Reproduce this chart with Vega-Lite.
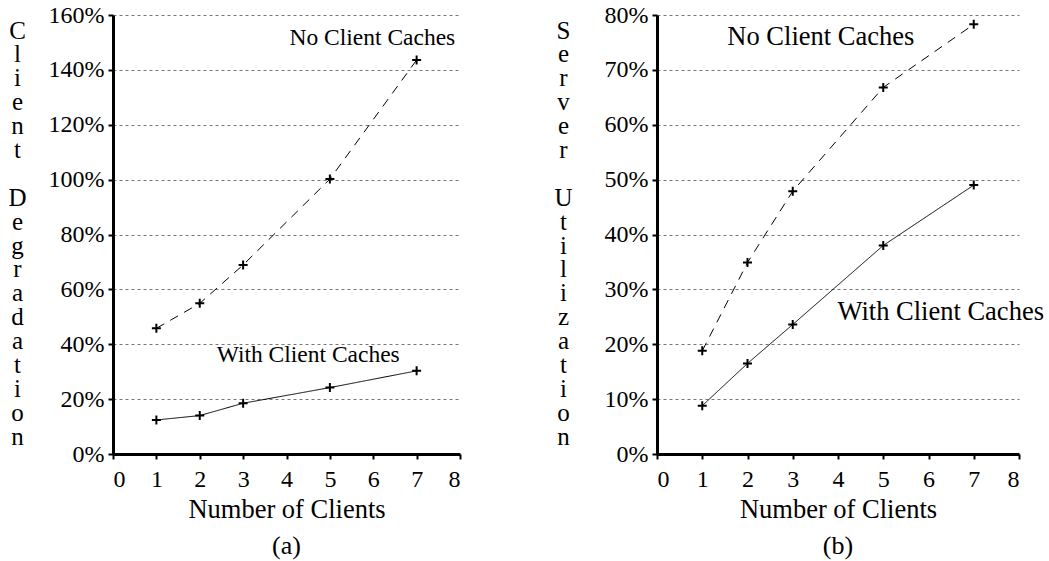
{
  "$schema": "https://vega.github.io/schema/vega-lite/v6.json",
  "autosize": {"type": "pad"},
  "padding": {"left": 7, "top": 3, "right": 2, "bottom": 4},
  "bounds": "flush",
  "spacing": 197,
  "background": "white",
  "config": {
    "view": {"stroke": null},
    "font": "Liberation Serif",
    "axis": {
      "domainColor": "black",
      "domainWidth": 3,
      "tickColor": "black",
      "tickWidth": 2,
      "tickSize": 5,
      "labelFont": "Liberation Serif",
      "labelFontSize": 24,
      "labelColor": "black",
      "titleFont": "Liberation Serif",
      "titleFontSize": 26.5,
      "titleFontWeight": "normal",
      "titleColor": "black"
    },
    "title": {"font": "Liberation Serif", "fontSize": 26, "fontWeight": "normal", "color": "black"}
  },
  "datasets": {
    "a": [
      {"clients": 1, "value": 0.458, "series": "No Client Caches"},
      {"clients": 2, "value": 0.549, "series": "No Client Caches"},
      {"clients": 3, "value": 0.689, "series": "No Client Caches"},
      {"clients": 5, "value": 1.002, "series": "No Client Caches"},
      {"clients": 7, "value": 1.436, "series": "No Client Caches"},
      {"clients": 1, "value": 0.124, "series": "With Client Caches"},
      {"clients": 2, "value": 0.140, "series": "With Client Caches"},
      {"clients": 3, "value": 0.185, "series": "With Client Caches"},
      {"clients": 5, "value": 0.242, "series": "With Client Caches"},
      {"clients": 7, "value": 0.303, "series": "With Client Caches"}
    ],
    "b": [
      {"clients": 1, "value": 0.188, "series": "No Client Caches"},
      {"clients": 2, "value": 0.349, "series": "No Client Caches"},
      {"clients": 3, "value": 0.479, "series": "No Client Caches"},
      {"clients": 5, "value": 0.668, "series": "No Client Caches"},
      {"clients": 7, "value": 0.783, "series": "No Client Caches"},
      {"clients": 1, "value": 0.088, "series": "With Client Caches"},
      {"clients": 2, "value": 0.165, "series": "With Client Caches"},
      {"clients": 3, "value": 0.236, "series": "With Client Caches"},
      {"clients": 5, "value": 0.380, "series": "With Client Caches"},
      {"clients": 7, "value": 0.490, "series": "With Client Caches"}
    ],
    "la": [
      {"clients": 5.98, "value": 1.516, "label": "No Client Caches"},
      {"clients": 4.5, "value": 0.361, "label": "With Client Caches"}
    ],
    "lb": [
      {"clients": 3.62, "value": 0.76, "label": "No Client Caches"},
      {"clients": 6.27, "value": 0.259, "label": "With Client Caches"}
    ]
  },
  "hconcat": [
    {
      "width": 347,
      "height": 439,
      "title": {"text": "(a)", "orient": "bottom", "offset": 10},
      "layer": [
        {
          "data": {"name": "a"},
          "mark": {"type": "line", "color": "black", "strokeWidth": 1},
          "encoding": {
            "x": {"field": "clients", "type": "quantitative", "scale": {"domain": [0, 8], "nice": false},
              "axis": {"values": [0, 1, 2, 3, 4, 5, 6, 7, 8], "grid": false, "title": "Number of Clients", "labelPadding": 8, "titlePadding": 5}},
            "y": {"field": "value", "type": "quantitative", "scale": {"domain": [0, 1.6], "nice": false},
              "axis": {"values": [0, 0.2, 0.4, 0.6, 0.8, 1.0, 1.2, 1.4, 1.6], "format": ".0%", "grid": true, "gridDash": [3, 3], "gridColor": "#777", "gridWidth": 1, "labelPadding": 4,
                "title": ["C", "l", "i", "e", "n", "t", "\u2800", "D", "e", "g", "r", "a", "d", "a", "t", "i", "o", "n"],
                "titleFontSize": 25, "titleAngle": 0, "titleAlign": "center", "titleBaseline": "top", "titleLineHeight": 23.9, "titleX": -96, "titleY": 3}},
            "strokeDash": {"field": "series", "type": "nominal", "scale": {"domain": ["No Client Caches", "With Client Caches"], "range": [[9, 7], [1, 0]]}, "legend": null}
          }
        },
        {
          "data": {"name": "a"},
          "mark": {"type": "point", "shape": "M-1,0H1M0,-1V1", "size": 81, "strokeWidth": 2, "color": "black", "filled": false, "opacity": 1},
          "encoding": {
            "x": {"field": "clients", "type": "quantitative"},
            "y": {"field": "value", "type": "quantitative"}
          }
        },
        {
          "data": {"name": "la"},
          "mark": {"type": "text", "fontSize": 23.5, "font": "Liberation Serif", "color": "black", "align": "center", "baseline": "middle"},
          "encoding": {
            "x": {"field": "clients", "type": "quantitative"},
            "y": {"field": "value", "type": "quantitative"},
            "text": {"field": "label"}
          }
        }
      ]
    },
    {
      "width": 362,
      "height": 439,
      "title": {"text": "(b)", "orient": "bottom", "offset": 10},
      "layer": [
        {
          "data": {"name": "b"},
          "mark": {"type": "line", "color": "black", "strokeWidth": 1},
          "encoding": {
            "x": {"field": "clients", "type": "quantitative", "scale": {"domain": [0, 8], "nice": false},
              "axis": {"values": [0, 1, 2, 3, 4, 5, 6, 7, 8], "grid": false, "title": "Number of Clients", "labelPadding": 8, "titlePadding": 5}},
            "y": {"field": "value", "type": "quantitative", "scale": {"domain": [0, 0.8], "nice": false},
              "axis": {"values": [0, 0.1, 0.2, 0.3, 0.4, 0.5, 0.6, 0.7, 0.8], "format": ".0%", "grid": true, "gridDash": [3, 3], "gridColor": "#777", "gridWidth": 1, "labelPadding": 4,
                "title": ["S", "e", "r", "v", "e", "r", "\u2800", "U", "t", "i", "l", "i", "z", "a", "t", "i", "o", "n"],
                "titleFontSize": 25, "titleAngle": 0, "titleAlign": "center", "titleBaseline": "top", "titleLineHeight": 23.9, "titleX": -94, "titleY": 3}},
            "strokeDash": {"field": "series", "type": "nominal", "scale": {"domain": ["No Client Caches", "With Client Caches"], "range": [[9, 7], [1, 0]]}, "legend": null}
          }
        },
        {
          "data": {"name": "b"},
          "mark": {"type": "point", "shape": "M-1,0H1M0,-1V1", "size": 81, "strokeWidth": 2, "color": "black", "filled": false, "opacity": 1},
          "encoding": {
            "x": {"field": "clients", "type": "quantitative"},
            "y": {"field": "value", "type": "quantitative"}
          }
        },
        {
          "data": {"name": "lb"},
          "mark": {"type": "text", "fontSize": 26.5, "font": "Liberation Serif", "color": "black", "align": "center", "baseline": "middle"},
          "encoding": {
            "x": {"field": "clients", "type": "quantitative"},
            "y": {"field": "value", "type": "quantitative"},
            "text": {"field": "label"}
          }
        }
      ]
    }
  ]
}
